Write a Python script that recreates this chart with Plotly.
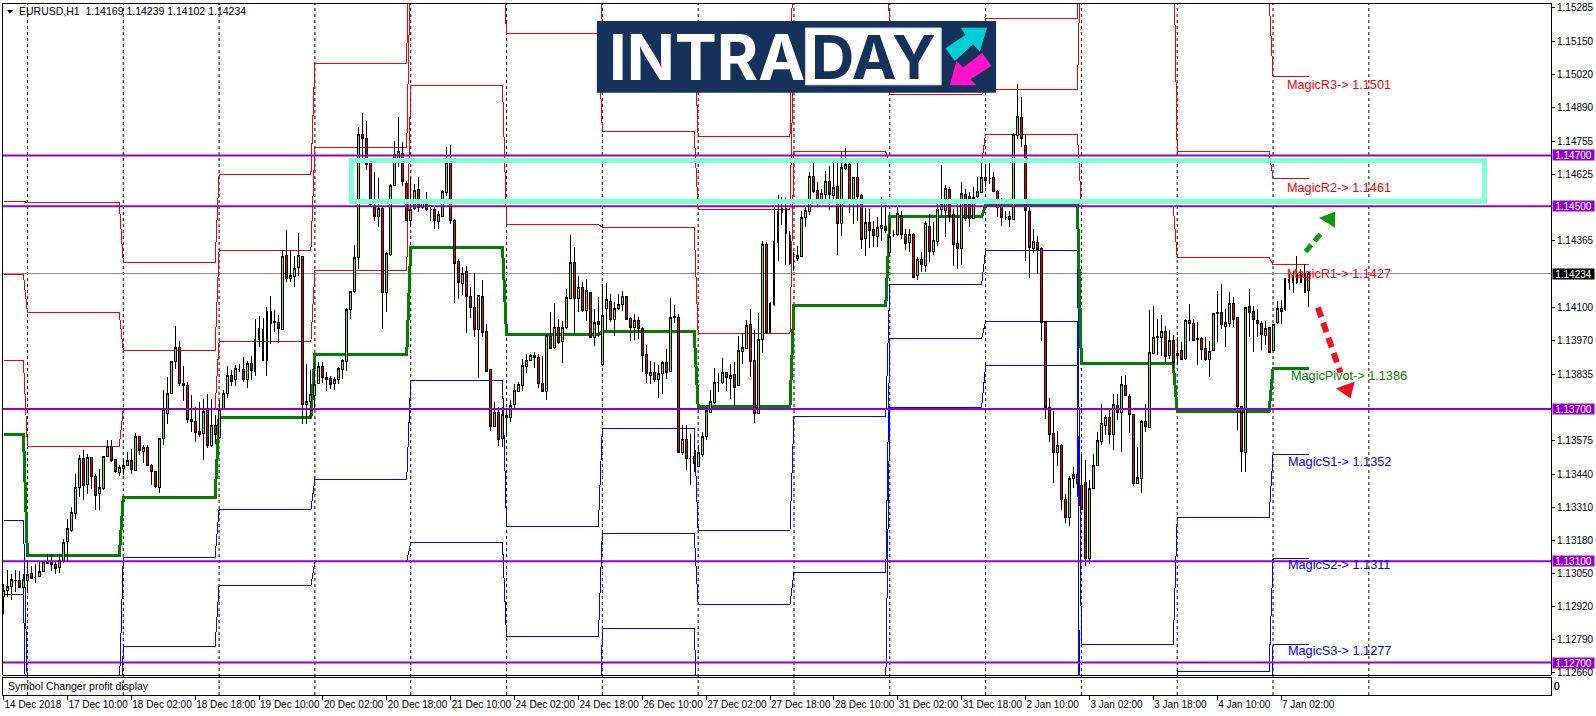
import plotly.graph_objects as go

# ---------- prices in points (1e-5) ----------
opens_pts = [
112962,112983,112999,113024,113024,112996,113025,113051,113036,113038,
113059,113099,113097,113088,113074,113101,113176,113222,113288,113390,
113506,113402,113508,113435,113365,113386,113511,113554,113502,113448,
113467,113477,113498,113458,113592,113534,113548,113477,113453,113389,
113583,113682,113763,113886,113944,113802,113792,113660,113649,113610,
113603,113697,113555,113634,113587,113697,113760,113831,113815,113857,
113856,113815,113878,113849,113975,114012,113891,114086,114044,114040,
114015,114304,114216,114223,114259,114301,113716,113729,113755,113800,
113868,113826,113819,113800,113815,113857,113889,114091,114162,114296,
114784,114768,114671,114493,114458,114492,114160,114311,114582,114686,
114708,114590,114445,114489,114566,114495,114506,114488,114488,114440,
114461,114554,114672,114443,114280,114196,114241,114144,114101,114013,
114143,114004,113856,113633,113687,113582,113675,113666,113717,113770,
113794,113869,113891,113910,113902,113800,113771,113986,113944,114020,
113968,114020,114137,114276,114136,114178,114088,114161,113981,114044,
113876,114098,114122,114054,114096,114114,114143,114055,114023,114049,
114016,113914,113834,113843,113818,113839,113882,113847,114063,114059,
113527,113580,113503,113513,113475,113521,113593,113688,113725,113803,
113806,113843,113822,113835,113793,113928,113939,114033,113892,113681,
113974,114348,114002,114112,114357,114476,114489,114386,114282,114292,
114302,114456,114479,114616,114561,114521,114545,114599,114542,114577,
114430,114649,114663,114521,114611,114540,114374,114437,114406,114381,
114412,114419,114318,114390,114388,114465,114388,114357,114390,114225,
114288,114267,114419,114322,114361,114485,114482,114567,114466,114351,
114334,114545,114537,114453,114537,114554,114611,114609,114611,114559,
114498,114456,114458,114449,114780,114851,114739,114477,114334,114357,
114331,114042,113705,113603,113528,113555,113343,113272,113427,113441,
113399,113412,113109,113387,113477,113570,113635,113666,113600,113713,
113685,113792,113750,113678,113408,113425,113650,113629,113920,113981,
113983,114006,113911,113970,113910,113929,113898,114049,114036,113977,
113977,113940,113895,113931,114075,114080,114025,114036,114115,114059,
113708,113528,114103,114084,114049,114038,113991,114023,113932,114040,
114097,114091,114209,114197,114233,114200,114233,114169]

highs_pts = [
113009,113067,113049,113067,113062,113051,113091,113080,113088,113097,
113101,113128,113128,113101,113124,113189,113268,113314,113443,113517,
113537,113524,113511,113445,113465,113513,113579,113579,113504,113478,
113498,113529,113544,113605,113592,113557,113557,113485,113454,113587,
113776,113826,113891,114029,113970,113870,113807,113754,113708,113727,
113741,113758,113741,113675,113734,113773,113870,113855,113872,113878,
113905,113891,113910,114055,114065,114060,114104,114147,114091,114072,
114327,114406,114327,114305,114395,114301,113878,113852,113885,113885,
113885,113845,113832,113828,113865,113898,114099,114167,114348,114813,
114868,114834,114672,114633,114611,114495,114318,114587,114758,114852,
114751,114600,114613,114587,114616,114525,114554,114506,114498,114479,
114563,114734,114742,114449,114292,114259,114262,114180,114235,114151,
114209,114036,113859,113726,113708,113708,113684,113734,113800,113806,
113898,113918,113915,113924,113915,113911,113996,114082,114117,114055,
114049,114174,114388,114340,114226,114200,114213,114161,114095,114143,
114193,114197,114154,114121,114154,114167,114146,114062,114075,114062,
114023,113954,113891,113885,113872,113891,113937,114138,114112,114073,
113635,113635,113600,113563,113560,113610,113714,113773,113863,113842,
113902,113846,113878,113885,113986,113999,114052,114095,114012,114078,
114364,114357,114121,114498,114545,114537,114532,114403,114318,114344,
114482,114498,114633,114672,114597,114567,114640,114660,114672,114672,
114712,114729,114682,114613,114672,114548,114493,114488,114443,114458,
114537,114505,114430,114406,114502,114482,114410,114410,114393,114298,
114318,114443,114469,114436,114528,114663,114584,114574,114489,114508,
114596,114567,114554,114574,114613,114672,114666,114672,114633,114563,
114534,114482,114482,114790,114981,114931,114781,114498,114410,114384,
114338,114049,113744,113692,113613,113561,113364,113435,113471,113465,
113517,113500,113422,113521,113608,113718,113675,113697,113760,113758,
113832,113836,113758,113681,113550,113655,113721,114091,114108,114056,
114069,114029,114010,113990,113983,113964,114053,114115,114055,114042,
113983,113983,113970,114075,114167,114193,114095,114160,114141,114059,
113712,114101,114174,114108,114095,114049,114049,114025,114036,114125,
114130,114216,114233,114246,114305,114253,114272,114239]

lows_pts = [
112891,112960,112946,112979,112996,112960,112986,113032,113015,113037,
113057,113088,113062,113049,113054,113093,113097,113215,113267,113353,
113340,113366,113386,113301,113301,113382,113511,113491,113448,113435,
113439,113474,113445,113456,113517,113487,113475,113399,113389,113369,
113557,113639,113760,113858,113789,113730,113645,113609,113571,113590,
113498,113547,113550,113563,113583,113695,113744,113789,113792,113845,
113806,113784,113813,113832,113944,113889,113830,113957,114002,113960,
114012,114200,114200,114183,114226,113642,113642,113662,113701,113797,
113802,113771,113780,113776,113797,113819,113849,114054,114159,114252,
114686,114642,114500,114443,114419,114016,114082,114305,114579,114653,
114579,114443,114416,114485,114475,114490,114482,114440,114411,114411,
114458,114541,114430,114117,114134,114148,113999,114059,113983,113821,
113983,113847,113612,113629,113554,113550,113590,113649,113697,113767,
113770,113842,113889,113863,113784,113767,113737,113936,113937,113957,
113881,114015,114134,113996,114082,114082,114046,113981,113947,113983,
113870,114010,114042,113986,114092,114085,114052,113970,113973,113977,
113845,113802,113800,113806,113743,113760,113819,113844,114038,113544,
113517,113458,113400,113450,113470,113510,113576,113684,113721,113767,
113800,113771,113740,113710,113790,113878,113935,113826,113645,113679,
113920,113996,113996,114108,114285,114427,114269,114269,114243,114285,
114298,114416,114466,114553,114499,114511,114521,114485,114521,114309,
114384,114642,114472,114430,114440,114331,114302,114335,114340,114340,
114364,114396,114305,114377,114384,114370,114328,114318,114217,114210,
114239,114239,114279,114309,114344,114456,114377,114436,114265,114252,
114268,114443,114416,114449,114534,114552,114574,114587,114556,114456,
114423,114445,114419,114447,114764,114734,114285,114217,114315,114233,
113968,113662,113570,113408,113474,113301,113251,113238,113390,113386,
113301,113080,113088,113385,113474,113557,113596,113561,113540,113655,
113530,113750,113605,113395,113406,113369,113609,113626,113918,113914,
113911,113878,113898,113852,113876,113894,113895,113970,113968,113872,
113894,113889,113826,113928,113964,114016,113944,114025,114023,113616,
113452,113452,113983,113924,113983,113931,113954,113922,113927,114036,
114036,114088,114170,114157,114193,114196,114158,114102]

closes_pts = [
112983,113000,113028,113025,112996,113028,113047,113033,113036,113059,
113099,113090,113086,113070,113103,113173,113229,113292,113390,113506,
113397,113508,113432,113360,113390,113513,113554,113498,113452,113469,
113477,113498,113461,113592,113537,113548,113477,113453,113393,113583,
113700,113763,113886,113941,113802,113793,113658,113649,113608,113601,
113689,113555,113634,113601,113700,113760,113831,113810,113859,113857,
113815,113878,113852,113975,114016,113891,114084,114038,114040,114017,
114301,114216,114225,114256,114304,113716,113729,113756,113796,113868,
113826,113818,113798,113815,113859,113891,114091,114162,114296,114784,
114767,114666,114506,114461,114492,114160,114314,114583,114705,114716,
114597,114445,114486,114563,114495,114515,114486,114488,114445,114466,
114557,114671,114443,114275,114200,114235,114145,114101,114014,114147,
114003,113849,113633,113687,113578,113679,113666,113713,113773,113797,
113870,113891,113912,113902,113802,113768,113990,113939,114020,113963,
114020,114138,114276,114134,114178,114088,114167,113983,114040,114035,
114069,114130,114054,114096,114111,114143,114054,114023,114049,114018,
113912,113839,113843,113818,113839,113882,113845,114062,114059,113530,
113580,113505,113503,113485,113527,113590,113695,113730,113803,113803,
113843,113826,113832,113786,113931,113941,114029,113889,113681,113974,
114348,114002,114117,114359,114478,114489,114393,114275,114282,114305,
114457,114482,114617,114556,114521,114548,114596,114545,114573,114430,
114651,114663,114524,114611,114537,114369,114437,114403,114384,114414,
114422,114403,114380,114390,114469,114390,114353,114388,114220,114288,
114268,114430,114322,114364,114485,114508,114571,114458,114348,114334,
114548,114453,114453,114534,114556,114611,114600,114609,114558,114495,
114456,114456,114449,114781,114855,114768,114482,114335,114361,114328,
114042,113705,113600,113527,113555,113343,113271,113427,113440,113406,
113303,113110,113386,113477,113576,113642,113666,113600,113718,113688,
113796,113752,113678,113408,113429,113650,113633,113922,113981,113986,
114006,113908,113970,113885,113918,113897,114049,114036,113970,113974,
113936,113894,113925,114075,114079,114032,114040,114115,114054,113708,
113531,114099,114082,114051,114036,113994,114016,113924,114032,114097,
114086,114213,114197,114227,114199,114233,114160,114234]

# daily levels, one value per trading-day block (points)
day_starts = [0, 6, 30, 54, 78, 102, 126, 150, 174, 198, 222, 246, 270, 294, 318]
last_bar = 327
r3_pts = [114520,114513,114279,114624,115064,116140,115610,115206,114774,115760,115152,115241,116240,115325,115010]
r2_pts = [114230,114079,113930,114327,114732,115504,115179,114795,114486,115154,114939,114959,115620,114716,114610]
r1_pts = [113890,113553,113700,113966,114245,114977,114428,114416,113996,114714,114671,114784,114500,114299,114270]
pv_pts = [113598,113121,113350,113667,113913,114338,113993,114005,113710,114108,114458,114502,113879,113690,113860]
s1_pts = [113262,112590,113116,113303,113424,113811,113238,113625,113219,113669,114190,114327,112770,113274,113520]
s2_pts = [112967,112170,112765,113004,113100,113172,112801,113211,112931,113057,113977,114044,111000,112664,113110]
s3_pts = [112630,111640,112530,112640,112600,112640,112050,112833,112440,112620,113705,113870,110400,112248,112770]

hline_levels = [1.14700, 1.14500, 1.13700, 1.13100, 1.12700]
bid_price = 1.14234
price_ticks = [1.15285,1.15150,1.15020,1.14890,1.14755,1.14625,1.14365,1.14100,1.13970,1.13835,
               1.13575,1.13440,1.13310,1.13180,1.13050,1.12920,1.12790,1.12660]
date_tick_bars = list(range(0, 321, 16))
date_tick_labels = ["14 Dec 2018","17 Dec 10:00","18 Dec 02:00","18 Dec 18:00","19 Dec 10:00","20 Dec 02:00",
                    "20 Dec 18:00","21 Dec 10:00","24 Dec 02:00","24 Dec 18:00","26 Dec 10:00","27 Dec 02:00",
                    "27 Dec 18:00","28 Dec 10:00","31 Dec 02:00","31 Dec 18:00","2 Jan 10:00","3 Jan 02:00",
                    "3 Jan 18:00","4 Jan 10:00","7 Jan 02:00"]
separator_bars = list(range(6, 343, 24))
zone_low, zone_high = 1.14518, 1.14680
zone_bar_start, zone_bar_end = 87.1, 371.0

opens = [v / 1e5 for v in opens_pts]
highs = [v / 1e5 for v in highs_pts]
lows = [v / 1e5 for v in lows_pts]
closes = [v / 1e5 for v in closes_pts]
bars = list(range(len(opens)))

# ---------- page geometry ----------
W, H = 1596, 716
ML, MR, MT, MB = 3, 42, 2, 21
PW, PH = W - ML - MR, H - MT - MB
def px(x): return (x - ML) / PW
def py(y): return 1 - (y - MT) / PH
X_RANGE = [-0.125, 387.625]
Y_RANGE = [1.12651, 1.15301]
FONT = "Liberation Sans"

def step_xy(levels):
    xs, ys = [], []
    for k, lv in enumerate(levels):
        end = day_starts[k + 1] - 1 if k + 1 < len(day_starts) else last_bar
        xs += [day_starts[k], end]
        ys += [lv / 1e5, lv / 1e5]
    return xs, ys

fig = go.Figure()
for levels, color, width in [(r3_pts, "#ff0000", 1), (r2_pts, "#ff0000", 1), (r1_pts, "#ff0000", 1),
                             (s1_pts, "#0000ff", 1), (s2_pts, "#0000ff", 1), (s3_pts, "#0000ff", 1),
                             (pv_pts, "#007f00", 3)]:
    xs, ys = step_xy(levels)
    fig.add_trace(go.Scatter(x=xs, y=ys, mode="lines", line=dict(color=color, width=width),
                             hoverinfo="skip", showlegend=False, xaxis="x", yaxis="y"))

fig.add_trace(go.Candlestick(
    x=bars, open=opens, high=highs, low=lows, close=closes, xaxis="x", yaxis="y3",
    whiskerwidth=0, showlegend=False,
    increasing=dict(line=dict(color="#000000", width=1), fillcolor="#8fe010"),
    decreasing=dict(line=dict(color="#000000", width=1), fillcolor="#f00000"),
))
# the separate lower window, empty apart from its label
fig.add_trace(go.Scatter(x=[0], y=[4], mode="markers", marker=dict(opacity=0), hoverinfo="skip",
                         showlegend=False, xaxis="x", yaxis="y2"))

shapes = []
for b in separator_bars:
    shapes.append(dict(type="line", xref="x", yref="paper", x0=b, x1=b, y0=0, y1=1, layer="below",
                       line=dict(color="#000000", width=1, dash="3px,3px")))
shapes.append(dict(type="line", xref="paper", yref="y", x0=0, x1=1, y0=bid_price, y1=bid_price, layer="below",
                   line=dict(color="#808890", width=1)))
for lv in hline_levels:
    shapes.append(dict(type="line", xref="paper", yref="y", x0=0, x1=1, y0=lv, y1=lv, layer="above",
                       line=dict(color="#9400d3", width=2)))
shapes.append(dict(type="rect", xref="x", yref="y", x0=zone_bar_start, x1=zone_bar_end, y0=zone_low, y1=zone_high,
                   layer="above", line=dict(color="#7fffd4", width=5), fillcolor="rgba(0,0,0,0)"))
for y in (2.5, 675.5, 677.5):
    shapes.append(dict(type="line", xref="paper", yref="paper", x0=0, x1=1, y0=py(y), y1=py(y), layer="above",
                       line=dict(color="#000000", width=1)))

def poly(points, fill):
    d = "M" + " L".join(f"{px(x):.5f},{py(y):.5f}" for x, y in points) + " Z"
    return dict(type="path", xref="paper", yref="paper", path=d, fillcolor=fill, line=dict(width=0), layer="above")

def seg(p0, p1, color, width, dash):
    return dict(type="line", xref="paper", yref="paper", x0=px(p0[0]), y0=py(p0[1]), x1=px(p1[0]), y1=py(p1[1]),
                layer="above", line=dict(color=color, width=width, dash=dash))

shapes.append(poly([(7, 9), (13, 9), (10, 12.5)], "#000000"))
shapes.append(dict(type="rect", xref="paper", yref="paper", x0=px(598), x1=px(998), y0=py(92), y1=py(20),
                   fillcolor="#15335a", line=dict(width=0), layer="above"))
shapes.append(dict(type="rect", xref="paper", yref="paper", x0=px(807), x1=px(943), y0=py(84), y1=py(27),
                   fillcolor="#ffffff", line=dict(color="#c8d0dc", width=1), layer="above"))
shapes.append(poly([(962.7, 26.7), (989, 26.7), (981.7, 50.7), (975, 43.3), (956.7, 60), (947.3, 47.3), (967.3, 34)], "#00ced6"))
shapes.append(poly([(951.7, 84.3), (958.3, 60), (965, 66.7), (984, 51.7), (993.3, 65), (972.3, 78.3), (978.3, 84.3)], "#ff14c8"))
shapes.append(seg((1308, 251), (1326, 230), "#0b9a0b", 5, "9px,5px"))
shapes.append(poly([(1337.6, 211), (1321.5, 217), (1337.6, 227)], "#0b9a0b"))
shapes.append(seg((1320.5, 307), (1343, 372), "#f01020", 6, "10px,6px"))
shapes.append(poly([(1353, 398), (1338.6, 388), (1357.4, 381)], "#f01020"))

ann = []
def text(x, y, s, color="#000000", size=10, anchor="left", **kw):
    ann.append(dict(xref="paper", yref="paper", x=px(x), y=py(y), text=s, showarrow=False, xanchor=anchor,
                    yanchor="middle", font=dict(family=kw.pop("family", FONT), size=size, color=color),
                    borderpad=0, **kw))

text(18, 10, "EURUSD,H1&nbsp;&nbsp;1.14169 1.14239 1.14102 1.14234", size=10.5)
text(7, 686, "Symbol Changer profit display", size=10.5)
text(609, 56, "<b>INTRA</b>", color="#ffffff", size=63, family="Inter")
text(875, 56, "<b>DAY</b>", color="#15335a", size=60, anchor="center", family="Inter")
for x, y, s, c in [(1288, 84, "MagicR3-> 1.1501", "#ff0000"), (1288, 187, "MagicR2-> 1.1461", "#ff0000"),
                   (1288, 273, "MagicR1-> 1.1427", "#ff0000"), (1292, 376, "MagicPivot-> 1.1386", "#007f00"),
                   (1289, 462, "MagicS1-> 1.1352", "#0000ff"), (1289, 565, "MagicS2-> 1.1311", "#0000ff"),
                   (1289, 651, "MagicS3-> 1.1277", "#0000ff")]:
    text(x, y, s, color=c, size=12.7)

def price_tag(price, bg):
    ann.append(dict(xref="paper", yref="y", x=px(1555), y=price, text=f"{price:.5f}", showarrow=False,
                    xanchor="left", yanchor="middle", width=41, height=10, align="center", bgcolor=bg,
                    font=dict(family=FONT, size=10, color="#ffffff"), borderpad=0))
for lv in hline_levels:
    price_tag(lv, "#9400d3")
price_tag(bid_price, "#000000")

fig.update_layout(
    width=W, height=H, autosize=False, paper_bgcolor="#ffffff", plot_bgcolor="#ffffff",
    margin=dict(l=ML, r=MR, t=MT, b=MB), showlegend=False, shapes=shapes, annotations=ann,
    font=dict(family=FONT, size=10, color="#000000"), hovermode=False,
    xaxis=dict(domain=[0, 1], range=X_RANGE, anchor="y2", tickmode="array", tickvals=date_tick_bars,
               ticktext=date_tick_labels, ticks="outside", ticklen=4, tickcolor="#000000", tickwidth=1,
               ticklabelposition="outside right", tickangle=0, showgrid=False, zeroline=False,
               showline=True, linecolor="#000000", linewidth=1, rangeslider=dict(visible=False),
               tickfont=dict(family=FONT, size=10, color="#000000")),
    yaxis=dict(domain=[(695 - 675) / PH, 1], range=Y_RANGE, anchor="x", side="right", tickmode="array",
               tickvals=price_ticks, ticktext=[f"{v:.5f}" for v in price_ticks], ticks="outside", ticklen=3,
               tickcolor="#000000", showgrid=False, zeroline=False, showline=True, linecolor="#000000",
               linewidth=1, mirror=True, tickfont=dict(family=FONT, size=10, color="#000000")),
    yaxis2=dict(domain=[0, (695 - 677) / PH], range=[0, 8], anchor="x", side="right", tickmode="array",
                tickvals=[4, 4.0001], ticktext=["0", "8"], ticks="", showgrid=False, zeroline=False,
                showline=True, linecolor="#000000", linewidth=1, mirror=True,
                tickfont=dict(family=FONT, size=10, color="#000000")),
    yaxis3=dict(domain=[(695 - 675) / PH, 1], range=Y_RANGE, anchor="x", overlaying="y", side="right",
                visible=False),
)

crisp = ("document.body.style.margin='0';document.body.style.overflow='hidden';"
         "document.querySelectorAll('.scatterlayer path.js-line,.boxlayer path').forEach("
         "function(p){p.style.shapeRendering='crispEdges';});")
fig.write_html("out.html", config={"displayModeBar": False}, post_script=crisp)
